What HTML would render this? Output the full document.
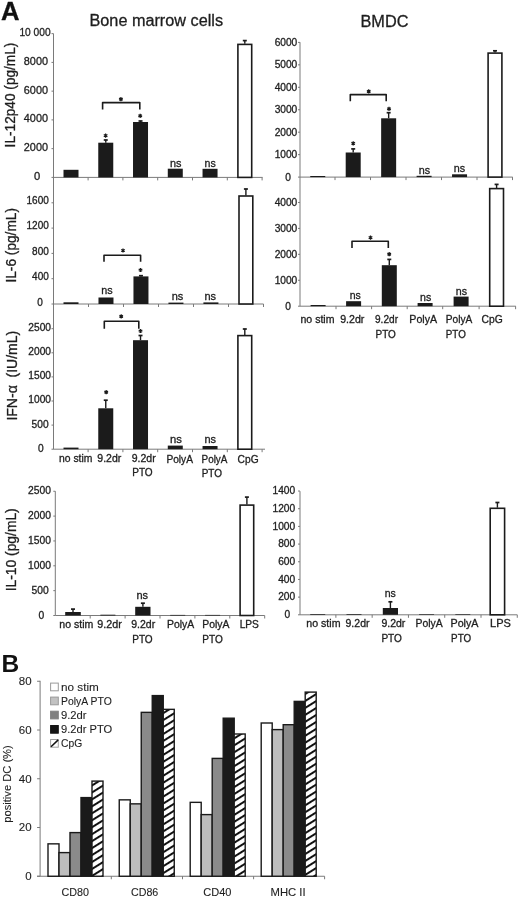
<!DOCTYPE html><html><head><meta charset="utf-8"><style>html,body{margin:0;padding:0;background:#fff;width:520px;height:903px;overflow:hidden}svg{display:block;will-change:transform;filter:blur(0.25px)}text{font-family:"Liberation Sans",sans-serif}</style></head><body>
<svg width="520" height="903" viewBox="0 0 520 903">
<defs><pattern id="hatch" patternUnits="userSpaceOnUse" width="5.9" height="10" patternTransform="rotate(58)"><rect width="5.9" height="10" fill="#fff"/><line x1="1" y1="0" x2="1" y2="10" stroke="#111" stroke-width="2.0"/></pattern></defs>
<rect width="520" height="903" fill="#fff"/>
<text x="1.0" y="19.7" font-size="25.6" text-anchor="start" font-weight="bold" fill="#111" stroke="#111" stroke-width="0.3">A</text>
<text x="89.5" y="26" font-size="16" text-anchor="start" font-weight="normal" fill="#1e1e1e" textLength="133.5" lengthAdjust="spacingAndGlyphs" stroke="#1e1e1e" stroke-width="0.3">Bone marrow cells</text>
<text x="360.5" y="26.5" font-size="16" text-anchor="start" font-weight="normal" fill="#1e1e1e" textLength="48" lengthAdjust="spacingAndGlyphs" stroke="#1e1e1e" stroke-width="0.3">BMDC</text>
<line x1="53.5" y1="33.6" x2="53.5" y2="449.3" stroke="#7a7a7a" stroke-width="1"/>
<line x1="51.5" y1="177.4" x2="53.5" y2="177.4" stroke="#7a7a7a" stroke-width="1"/>
<text x="37.2" y="179.8" font-size="11.2" text-anchor="middle" font-weight="normal" fill="#1e1e1e" stroke="#1e1e1e" stroke-width="0.3">0</text>
<line x1="51.5" y1="148.65" x2="53.5" y2="148.65" stroke="#7a7a7a" stroke-width="1"/>
<text x="48.0" y="151.05" font-size="11.2" text-anchor="end" font-weight="normal" fill="#1e1e1e" textLength="24.2" lengthAdjust="spacingAndGlyphs" stroke="#1e1e1e" stroke-width="0.3">2000</text>
<line x1="51.5" y1="119.9" x2="53.5" y2="119.9" stroke="#7a7a7a" stroke-width="1"/>
<text x="48.0" y="122.30000000000001" font-size="11.2" text-anchor="end" font-weight="normal" fill="#1e1e1e" textLength="24.2" lengthAdjust="spacingAndGlyphs" stroke="#1e1e1e" stroke-width="0.3">4000</text>
<line x1="51.5" y1="91.15" x2="53.5" y2="91.15" stroke="#7a7a7a" stroke-width="1"/>
<text x="48.0" y="93.55000000000001" font-size="11.2" text-anchor="end" font-weight="normal" fill="#1e1e1e" textLength="24.2" lengthAdjust="spacingAndGlyphs" stroke="#1e1e1e" stroke-width="0.3">6000</text>
<line x1="51.5" y1="62.400000000000006" x2="53.5" y2="62.400000000000006" stroke="#7a7a7a" stroke-width="1"/>
<text x="48.0" y="64.80000000000001" font-size="11.2" text-anchor="end" font-weight="normal" fill="#1e1e1e" textLength="24.2" lengthAdjust="spacingAndGlyphs" stroke="#1e1e1e" stroke-width="0.3">8000</text>
<line x1="51.5" y1="33.650000000000006" x2="53.5" y2="33.650000000000006" stroke="#7a7a7a" stroke-width="1"/>
<text x="50.6" y="36.050000000000004" font-size="11.2" text-anchor="end" font-weight="normal" fill="#1e1e1e" textLength="31.2" lengthAdjust="spacingAndGlyphs" stroke="#1e1e1e" stroke-width="0.3">10 000</text>
<line x1="53.5" y1="177.4" x2="262.6" y2="177.4" stroke="#7a7a7a" stroke-width="1"/>
<line x1="88.1" y1="177.4" x2="88.1" y2="180.4" stroke="#7a7a7a" stroke-width="1"/>
<line x1="122.89999999999999" y1="177.4" x2="122.89999999999999" y2="180.4" stroke="#7a7a7a" stroke-width="1"/>
<line x1="157.7" y1="177.4" x2="157.7" y2="180.4" stroke="#7a7a7a" stroke-width="1"/>
<line x1="192.5" y1="177.4" x2="192.5" y2="180.4" stroke="#7a7a7a" stroke-width="1"/>
<line x1="227.3" y1="177.4" x2="227.3" y2="180.4" stroke="#7a7a7a" stroke-width="1"/>
<line x1="262.09999999999997" y1="177.4" x2="262.09999999999997" y2="180.4" stroke="#7a7a7a" stroke-width="1"/>
<text x="15.2" y="95.0" font-size="14" text-anchor="middle" font-weight="normal" fill="#1e1e1e" textLength="104.8" lengthAdjust="spacingAndGlyphs" transform="rotate(-90 15.2 95.0)" stroke="#1e1e1e" stroke-width="0.3">IL-12p40 (pg/mL)</text>
<rect x="63.5" y="169.8" width="15" height="7.599999999999994" fill="#1b1b1b" stroke="none" stroke-width="1"/>
<rect x="98.25999999999999" y="142.7" width="15" height="34.70000000000002" fill="#1b1b1b" stroke="none" stroke-width="1"/>
<line x1="105.75999999999999" y1="142.7" x2="105.75999999999999" y2="139.8" stroke="#1b1b1b" stroke-width="1.4"/>
<line x1="103.75999999999999" y1="140.0" x2="107.75999999999999" y2="140.0" stroke="#1b1b1b" stroke-width="1.7"/>
<rect x="133.01999999999998" y="122.0" width="15" height="55.400000000000006" fill="#1b1b1b" stroke="none" stroke-width="1"/>
<line x1="140.51999999999998" y1="122.0" x2="140.51999999999998" y2="120.8" stroke="#1b1b1b" stroke-width="1.4"/>
<line x1="138.51999999999998" y1="121.0" x2="142.51999999999998" y2="121.0" stroke="#1b1b1b" stroke-width="1.7"/>
<rect x="167.78" y="168.7" width="15" height="8.700000000000017" fill="#1b1b1b" stroke="none" stroke-width="1"/>
<rect x="202.54" y="168.8" width="15" height="8.599999999999994" fill="#1b1b1b" stroke="none" stroke-width="1"/>
<rect x="237.89999999999998" y="44.4" width="13.8" height="133.00000000000003" fill="#fff" stroke="#1b1b1b" stroke-width="1.6"/>
<line x1="244.79999999999998" y1="43.8" x2="244.79999999999998" y2="40.4" stroke="#1b1b1b" stroke-width="1.4"/>
<line x1="242.79999999999998" y1="40.6" x2="246.79999999999998" y2="40.6" stroke="#1b1b1b" stroke-width="1.7"/>
<path d="M105.6 133.5V137.7M103.78 134.55L107.42 136.65M103.78 136.65L107.42 134.55" stroke="#1b1b1b" stroke-width="1.25" fill="none"/>
<circle cx="105.6" cy="135.6" r="0.9" fill="#1b1b1b"/>
<path d="M140.2 113.7V117.89999999999999M138.38 114.75L142.02 116.85M138.38 116.85L142.02 114.75" stroke="#1b1b1b" stroke-width="1.25" fill="none"/>
<circle cx="140.2" cy="115.8" r="0.9" fill="#1b1b1b"/>
<path d="M102.6 109.6 V102.6 H139.8 V109.6" fill="none" stroke="#1b1b1b" stroke-width="1.6" stroke-linejoin="round"/>
<path d="M120.9 97.10000000000001V101.3M119.08 98.15L122.72 100.25M119.08 100.25L122.72 98.15" stroke="#1b1b1b" stroke-width="1.25" fill="none"/>
<circle cx="120.9" cy="99.2" r="0.9" fill="#1b1b1b"/>
<text x="170.0" y="166.8" font-size="10.5" text-anchor="start" font-weight="normal" fill="#1e1e1e" textLength="11.5" lengthAdjust="spacingAndGlyphs" stroke="#1e1e1e" stroke-width="0.3">ns</text>
<text x="204.6" y="166.8" font-size="10.5" text-anchor="start" font-weight="normal" fill="#1e1e1e" textLength="11.2" lengthAdjust="spacingAndGlyphs" stroke="#1e1e1e" stroke-width="0.3">ns</text>
<line x1="51.5" y1="304.0" x2="53.5" y2="304.0" stroke="#7a7a7a" stroke-width="1"/>
<text x="40" y="305.5" font-size="10" text-anchor="middle" font-weight="normal" fill="#1e1e1e" stroke="#1e1e1e" stroke-width="0.3">0</text>
<line x1="51.5" y1="278.7" x2="53.5" y2="278.7" stroke="#7a7a7a" stroke-width="1"/>
<text x="48.8" y="280.0" font-size="10" text-anchor="end" font-weight="normal" fill="#1e1e1e" stroke="#1e1e1e" stroke-width="0.3">400</text>
<line x1="51.5" y1="253.4" x2="53.5" y2="253.4" stroke="#7a7a7a" stroke-width="1"/>
<text x="48.8" y="254.70000000000002" font-size="10" text-anchor="end" font-weight="normal" fill="#1e1e1e" stroke="#1e1e1e" stroke-width="0.3">800</text>
<line x1="51.5" y1="228.1" x2="53.5" y2="228.1" stroke="#7a7a7a" stroke-width="1"/>
<text x="48.8" y="229.4" font-size="10" text-anchor="end" font-weight="normal" fill="#1e1e1e" stroke="#1e1e1e" stroke-width="0.3">1200</text>
<line x1="51.5" y1="202.8" x2="53.5" y2="202.8" stroke="#7a7a7a" stroke-width="1"/>
<text x="48.8" y="204.10000000000002" font-size="10" text-anchor="end" font-weight="normal" fill="#1e1e1e" stroke="#1e1e1e" stroke-width="0.3">1600</text>
<line x1="53.5" y1="304.0" x2="263.5" y2="304.0" stroke="#7a7a7a" stroke-width="1"/>
<line x1="88.5" y1="304.0" x2="88.5" y2="307.0" stroke="#7a7a7a" stroke-width="1"/>
<line x1="123.5" y1="304.0" x2="123.5" y2="307.0" stroke="#7a7a7a" stroke-width="1"/>
<line x1="158.5" y1="304.0" x2="158.5" y2="307.0" stroke="#7a7a7a" stroke-width="1"/>
<line x1="193.5" y1="304.0" x2="193.5" y2="307.0" stroke="#7a7a7a" stroke-width="1"/>
<line x1="228.5" y1="304.0" x2="228.5" y2="307.0" stroke="#7a7a7a" stroke-width="1"/>
<line x1="263.5" y1="304.0" x2="263.5" y2="307.0" stroke="#7a7a7a" stroke-width="1"/>
<text x="16.0" y="245.3" font-size="14" text-anchor="middle" font-weight="normal" fill="#1e1e1e" textLength="74.5" lengthAdjust="spacingAndGlyphs" transform="rotate(-90 16.0 245.3)" stroke="#1e1e1e" stroke-width="0.3">IL-6 (pg/mL)</text>
<rect x="63.5" y="302.3" width="15" height="1.6999999999999886" fill="#1b1b1b" stroke="none" stroke-width="1"/>
<rect x="98.47999999999999" y="297.5" width="15" height="6.5" fill="#1b1b1b" stroke="none" stroke-width="1"/>
<rect x="133.45999999999998" y="276.4" width="15" height="27.600000000000023" fill="#1b1b1b" stroke="none" stroke-width="1"/>
<line x1="140.95999999999998" y1="276.4" x2="140.95999999999998" y2="275.5" stroke="#1b1b1b" stroke-width="1.4"/>
<line x1="138.95999999999998" y1="275.7" x2="142.95999999999998" y2="275.7" stroke="#1b1b1b" stroke-width="1.7"/>
<rect x="168.44" y="302.6" width="15" height="1.3999999999999773" fill="#1b1b1b" stroke="none" stroke-width="1"/>
<rect x="203.42" y="302.4" width="15" height="1.6000000000000227" fill="#1b1b1b" stroke="none" stroke-width="1"/>
<rect x="238.99999999999997" y="196.0" width="13.8" height="108.0" fill="#fff" stroke="#1b1b1b" stroke-width="1.6"/>
<line x1="245.89999999999998" y1="195.4" x2="245.89999999999998" y2="188.8" stroke="#1b1b1b" stroke-width="1.4"/>
<line x1="243.89999999999998" y1="189.0" x2="247.89999999999998" y2="189.0" stroke="#1b1b1b" stroke-width="1.7"/>
<path d="M140.5 267.9V272.1M138.68 268.95L142.32 271.05M138.68 271.05L142.32 268.95" stroke="#1b1b1b" stroke-width="1.25" fill="none"/>
<circle cx="140.5" cy="270" r="0.9" fill="#1b1b1b"/>
<path d="M104 261.7 V255.3 H140.6 V261.7" fill="none" stroke="#1b1b1b" stroke-width="1.6" stroke-linejoin="round"/>
<path d="M123 248.4V252.6M121.18 249.45L124.82 251.55M121.18 251.55L124.82 249.45" stroke="#1b1b1b" stroke-width="1.25" fill="none"/>
<circle cx="123" cy="250.5" r="0.9" fill="#1b1b1b"/>
<text x="101.2" y="294.2" font-size="10.5" text-anchor="start" font-weight="normal" fill="#1e1e1e" textLength="11.4" lengthAdjust="spacingAndGlyphs" stroke="#1e1e1e" stroke-width="0.3">ns</text>
<text x="171.7" y="300.2" font-size="10.5" text-anchor="start" font-weight="normal" fill="#1e1e1e" textLength="11.6" lengthAdjust="spacingAndGlyphs" stroke="#1e1e1e" stroke-width="0.3">ns</text>
<text x="204.5" y="300.0" font-size="10.5" text-anchor="start" font-weight="normal" fill="#1e1e1e" textLength="11.6" lengthAdjust="spacingAndGlyphs" stroke="#1e1e1e" stroke-width="0.3">ns</text>
<line x1="51.5" y1="449.2" x2="53.5" y2="449.2" stroke="#7a7a7a" stroke-width="1"/>
<text x="40.8" y="451.59999999999997" font-size="10.2" text-anchor="middle" font-weight="normal" fill="#1e1e1e" stroke="#1e1e1e" stroke-width="0.3">0</text>
<line x1="51.5" y1="425.09999999999997" x2="53.5" y2="425.09999999999997" stroke="#7a7a7a" stroke-width="1"/>
<text x="48.6" y="427.49999999999994" font-size="10.2" text-anchor="end" font-weight="normal" fill="#1e1e1e" stroke="#1e1e1e" stroke-width="0.3">500</text>
<line x1="51.5" y1="401.0" x2="53.5" y2="401.0" stroke="#7a7a7a" stroke-width="1"/>
<text x="51" y="403.4" font-size="10.2" text-anchor="end" font-weight="normal" fill="#1e1e1e" stroke="#1e1e1e" stroke-width="0.3">1000</text>
<line x1="51.5" y1="376.9" x2="53.5" y2="376.9" stroke="#7a7a7a" stroke-width="1"/>
<text x="51" y="379.29999999999995" font-size="10.2" text-anchor="end" font-weight="normal" fill="#1e1e1e" stroke="#1e1e1e" stroke-width="0.3">1500</text>
<line x1="51.5" y1="352.79999999999995" x2="53.5" y2="352.79999999999995" stroke="#7a7a7a" stroke-width="1"/>
<text x="51" y="355.19999999999993" font-size="10.2" text-anchor="end" font-weight="normal" fill="#1e1e1e" stroke="#1e1e1e" stroke-width="0.3">2000</text>
<line x1="51.5" y1="328.7" x2="53.5" y2="328.7" stroke="#7a7a7a" stroke-width="1"/>
<text x="51" y="331.09999999999997" font-size="10.2" text-anchor="end" font-weight="normal" fill="#1e1e1e" stroke="#1e1e1e" stroke-width="0.3">2500</text>
<line x1="53.5" y1="449.2" x2="265" y2="449.2" stroke="#7a7a7a" stroke-width="1"/>
<line x1="88.1" y1="449.2" x2="88.1" y2="452.2" stroke="#7a7a7a" stroke-width="1"/>
<line x1="122.89999999999999" y1="449.2" x2="122.89999999999999" y2="452.2" stroke="#7a7a7a" stroke-width="1"/>
<line x1="157.7" y1="449.2" x2="157.7" y2="452.2" stroke="#7a7a7a" stroke-width="1"/>
<line x1="192.5" y1="449.2" x2="192.5" y2="452.2" stroke="#7a7a7a" stroke-width="1"/>
<line x1="227.3" y1="449.2" x2="227.3" y2="452.2" stroke="#7a7a7a" stroke-width="1"/>
<line x1="262.09999999999997" y1="449.2" x2="262.09999999999997" y2="452.2" stroke="#7a7a7a" stroke-width="1"/>
<text x="17.0" y="375.7" font-size="14" text-anchor="middle" font-weight="normal" fill="#1e1e1e" textLength="89.8" lengthAdjust="spacingAndGlyphs" transform="rotate(-90 17.0 375.7)" stroke="#1e1e1e" stroke-width="0.3">IFN-α  (IU/mL)</text>
<rect x="63.5" y="447.6" width="15" height="1.599999999999966" fill="#1b1b1b" stroke="none" stroke-width="1"/>
<rect x="98.25999999999999" y="408.3" width="15" height="40.89999999999998" fill="#1b1b1b" stroke="none" stroke-width="1"/>
<line x1="105.75999999999999" y1="408.3" x2="105.75999999999999" y2="400.0" stroke="#1b1b1b" stroke-width="1.4"/>
<line x1="103.75999999999999" y1="400.2" x2="107.75999999999999" y2="400.2" stroke="#1b1b1b" stroke-width="1.7"/>
<rect x="133.01999999999998" y="340.2" width="15" height="109.0" fill="#1b1b1b" stroke="none" stroke-width="1"/>
<line x1="140.51999999999998" y1="340.2" x2="140.51999999999998" y2="335.3" stroke="#1b1b1b" stroke-width="1.4"/>
<line x1="138.51999999999998" y1="335.5" x2="142.51999999999998" y2="335.5" stroke="#1b1b1b" stroke-width="1.7"/>
<rect x="167.78" y="445.6" width="15" height="3.599999999999966" fill="#1b1b1b" stroke="none" stroke-width="1"/>
<rect x="202.54" y="446.0" width="15" height="3.1999999999999886" fill="#1b1b1b" stroke="none" stroke-width="1"/>
<rect x="237.89999999999998" y="335.6" width="13.8" height="113.6" fill="#fff" stroke="#1b1b1b" stroke-width="1.6"/>
<line x1="244.79999999999998" y1="335.0" x2="244.79999999999998" y2="328.8" stroke="#1b1b1b" stroke-width="1.4"/>
<line x1="242.79999999999998" y1="329.0" x2="246.79999999999998" y2="329.0" stroke="#1b1b1b" stroke-width="1.7"/>
<path d="M106.2 390.09999999999997V394.3M104.38 391.15L108.02 393.25M104.38 393.25L108.02 391.15" stroke="#1b1b1b" stroke-width="1.25" fill="none"/>
<circle cx="106.2" cy="392.2" r="0.9" fill="#1b1b1b"/>
<path d="M140.5 328.9V333.1M138.68 329.95L142.32 332.05M138.68 332.05L142.32 329.95" stroke="#1b1b1b" stroke-width="1.25" fill="none"/>
<circle cx="140.5" cy="331" r="0.9" fill="#1b1b1b"/>
<path d="M104.3 328.8 V321.2 H138.8 V328.8" fill="none" stroke="#1b1b1b" stroke-width="1.6" stroke-linejoin="round"/>
<path d="M121.2 314.29999999999995V318.5M119.38 315.35L123.02 317.45M119.38 317.45L123.02 315.35" stroke="#1b1b1b" stroke-width="1.25" fill="none"/>
<circle cx="121.2" cy="316.4" r="0.9" fill="#1b1b1b"/>
<text x="170.0" y="443.2" font-size="10.5" text-anchor="start" font-weight="normal" fill="#1e1e1e" textLength="11.9" lengthAdjust="spacingAndGlyphs" stroke="#1e1e1e" stroke-width="0.3">ns</text>
<text x="204.5" y="443.2" font-size="10.5" text-anchor="start" font-weight="normal" fill="#1e1e1e" textLength="11.6" lengthAdjust="spacingAndGlyphs" stroke="#1e1e1e" stroke-width="0.3">ns</text>
<text x="59" y="462.3" font-size="10.3" text-anchor="start" font-weight="normal" fill="#1e1e1e" textLength="33.4" lengthAdjust="spacingAndGlyphs" stroke="#1e1e1e" stroke-width="0.3">no stim</text>
<text x="97.3" y="462.3" font-size="10.3" text-anchor="start" font-weight="normal" fill="#1e1e1e" textLength="24" lengthAdjust="spacingAndGlyphs" stroke="#1e1e1e" stroke-width="0.3">9.2dr</text>
<text x="131.7" y="462.3" font-size="10.3" text-anchor="start" font-weight="normal" fill="#1e1e1e" textLength="24" lengthAdjust="spacingAndGlyphs" stroke="#1e1e1e" stroke-width="0.3">9.2dr</text>
<text x="132.2" y="476.3" font-size="10.3" text-anchor="start" font-weight="normal" fill="#1e1e1e" textLength="20.5" lengthAdjust="spacingAndGlyphs" stroke="#1e1e1e" stroke-width="0.3">PTO</text>
<text x="166.4" y="462.5" font-size="10.3" text-anchor="start" font-weight="normal" fill="#1e1e1e" textLength="26.6" lengthAdjust="spacingAndGlyphs" stroke="#1e1e1e" stroke-width="0.3">PolyA</text>
<text x="201.6" y="462.5" font-size="10.3" text-anchor="start" font-weight="normal" fill="#1e1e1e" textLength="25.8" lengthAdjust="spacingAndGlyphs" stroke="#1e1e1e" stroke-width="0.3">PolyA</text>
<text x="201.7" y="476.5" font-size="10.3" text-anchor="start" font-weight="normal" fill="#1e1e1e" textLength="20.3" lengthAdjust="spacingAndGlyphs" stroke="#1e1e1e" stroke-width="0.3">PTO</text>
<text x="237.6" y="462.5" font-size="10.3" text-anchor="start" font-weight="normal" fill="#1e1e1e" textLength="21" lengthAdjust="spacingAndGlyphs" stroke="#1e1e1e" stroke-width="0.3">CpG</text>
<line x1="55.3" y1="491.2" x2="55.3" y2="615.5" stroke="#7a7a7a" stroke-width="1"/>
<line x1="53.3" y1="615.5" x2="55.3" y2="615.5" stroke="#7a7a7a" stroke-width="1"/>
<text x="41.3" y="618.7" font-size="10.3" text-anchor="middle" font-weight="normal" fill="#1e1e1e" stroke="#1e1e1e" stroke-width="0.3">0</text>
<line x1="53.3" y1="590.65" x2="55.3" y2="590.65" stroke="#7a7a7a" stroke-width="1"/>
<text x="48.8" y="593.85" font-size="10.3" text-anchor="end" font-weight="normal" fill="#1e1e1e" stroke="#1e1e1e" stroke-width="0.3">500</text>
<line x1="53.3" y1="565.8" x2="55.3" y2="565.8" stroke="#7a7a7a" stroke-width="1"/>
<text x="51" y="569.0" font-size="10.3" text-anchor="end" font-weight="normal" fill="#1e1e1e" stroke="#1e1e1e" stroke-width="0.3">1000</text>
<line x1="53.3" y1="540.95" x2="55.3" y2="540.95" stroke="#7a7a7a" stroke-width="1"/>
<text x="51" y="544.1500000000001" font-size="10.3" text-anchor="end" font-weight="normal" fill="#1e1e1e" stroke="#1e1e1e" stroke-width="0.3">1500</text>
<line x1="53.3" y1="516.1" x2="55.3" y2="516.1" stroke="#7a7a7a" stroke-width="1"/>
<text x="51" y="519.3000000000001" font-size="10.3" text-anchor="end" font-weight="normal" fill="#1e1e1e" stroke="#1e1e1e" stroke-width="0.3">2000</text>
<line x1="53.3" y1="491.25" x2="55.3" y2="491.25" stroke="#7a7a7a" stroke-width="1"/>
<text x="51" y="494.45" font-size="10.3" text-anchor="end" font-weight="normal" fill="#1e1e1e" stroke="#1e1e1e" stroke-width="0.3">2500</text>
<line x1="55.3" y1="615.5" x2="264.7" y2="615.5" stroke="#7a7a7a" stroke-width="1"/>
<line x1="90.19999999999999" y1="615.5" x2="90.19999999999999" y2="618.5" stroke="#7a7a7a" stroke-width="1"/>
<line x1="125.1" y1="615.5" x2="125.1" y2="618.5" stroke="#7a7a7a" stroke-width="1"/>
<line x1="160.0" y1="615.5" x2="160.0" y2="618.5" stroke="#7a7a7a" stroke-width="1"/>
<line x1="194.89999999999998" y1="615.5" x2="194.89999999999998" y2="618.5" stroke="#7a7a7a" stroke-width="1"/>
<line x1="229.8" y1="615.5" x2="229.8" y2="618.5" stroke="#7a7a7a" stroke-width="1"/>
<line x1="264.7" y1="615.5" x2="264.7" y2="618.5" stroke="#7a7a7a" stroke-width="1"/>
<text x="16.0" y="549.8" font-size="14" text-anchor="middle" font-weight="normal" fill="#1e1e1e" textLength="83" lengthAdjust="spacingAndGlyphs" transform="rotate(-90 16.0 549.8)" stroke="#1e1e1e" stroke-width="0.3">IL-10 (pg/mL)</text>
<rect x="65.2" y="612.0" width="15.6" height="3.5" fill="#1b1b1b" stroke="none" stroke-width="1"/>
<line x1="73.0" y1="612" x2="73.0" y2="608.9" stroke="#1b1b1b" stroke-width="1.4"/>
<line x1="71.0" y1="609.1" x2="75.0" y2="609.1" stroke="#1b1b1b" stroke-width="1.7"/>
<rect x="100.4" y="614.7" width="15" height="0.8" fill="#1b1b1b" stroke="none" stroke-width="1"/>
<rect x="135.20000000000002" y="606.8" width="15.3" height="8.700000000000045" fill="#1b1b1b" stroke="none" stroke-width="1"/>
<line x1="142.9" y1="606.8" x2="142.9" y2="603.0" stroke="#1b1b1b" stroke-width="1.4"/>
<line x1="140.9" y1="603.2" x2="144.9" y2="603.2" stroke="#1b1b1b" stroke-width="1.7"/>
<rect x="170.2" y="614.9" width="15" height="0.6" fill="#1b1b1b" stroke="none" stroke-width="1"/>
<rect x="205.1" y="614.9" width="15" height="0.6" fill="#1b1b1b" stroke="none" stroke-width="1"/>
<rect x="240.1" y="505.1" width="13.6" height="110.39999999999998" fill="#fff" stroke="#1b1b1b" stroke-width="1.6"/>
<line x1="246.9" y1="504.5" x2="246.9" y2="496.9" stroke="#1b1b1b" stroke-width="1.4"/>
<line x1="244.9" y1="497.09999999999997" x2="248.9" y2="497.09999999999997" stroke="#1b1b1b" stroke-width="1.7"/>
<text x="136.39999999999998" y="599.0" font-size="10.5" text-anchor="start" font-weight="normal" fill="#1e1e1e" textLength="11.6" lengthAdjust="spacingAndGlyphs" stroke="#1e1e1e" stroke-width="0.3">ns</text>
<text x="59.3" y="627.5" font-size="10.3" text-anchor="start" font-weight="normal" fill="#1e1e1e" textLength="34" lengthAdjust="spacingAndGlyphs" stroke="#1e1e1e" stroke-width="0.3">no stim</text>
<text x="97.3" y="627.5" font-size="10.3" text-anchor="start" font-weight="normal" fill="#1e1e1e" textLength="24.5" lengthAdjust="spacingAndGlyphs" stroke="#1e1e1e" stroke-width="0.3">9.2dr</text>
<text x="131.2" y="627.5" font-size="10.3" text-anchor="start" font-weight="normal" fill="#1e1e1e" textLength="24" lengthAdjust="spacingAndGlyphs" stroke="#1e1e1e" stroke-width="0.3">9.2dr</text>
<text x="132.2" y="643.3" font-size="10.3" text-anchor="start" font-weight="normal" fill="#1e1e1e" textLength="20.5" lengthAdjust="spacingAndGlyphs" stroke="#1e1e1e" stroke-width="0.3">PTO</text>
<text x="167.0" y="627.5" font-size="10.3" text-anchor="start" font-weight="normal" fill="#1e1e1e" textLength="27.2" lengthAdjust="spacingAndGlyphs" stroke="#1e1e1e" stroke-width="0.3">PolyA</text>
<text x="202.3" y="627.5" font-size="10.3" text-anchor="start" font-weight="normal" fill="#1e1e1e" textLength="27.2" lengthAdjust="spacingAndGlyphs" stroke="#1e1e1e" stroke-width="0.3">PolyA</text>
<text x="202.3" y="643.3" font-size="10.3" text-anchor="start" font-weight="normal" fill="#1e1e1e" textLength="20.5" lengthAdjust="spacingAndGlyphs" stroke="#1e1e1e" stroke-width="0.3">PTO</text>
<text x="239.7" y="627.5" font-size="10.3" text-anchor="start" font-weight="normal" fill="#1e1e1e" textLength="19.2" lengthAdjust="spacingAndGlyphs" stroke="#1e1e1e" stroke-width="0.3">LPS</text>
<line x1="300.0" y1="42.2" x2="300.0" y2="306.2" stroke="#7a7a7a" stroke-width="1"/>
<line x1="298.0" y1="177.1" x2="300.0" y2="177.1" stroke="#7a7a7a" stroke-width="1"/>
<text x="288" y="180.7" font-size="10.2" text-anchor="middle" font-weight="normal" fill="#1e1e1e" stroke="#1e1e1e" stroke-width="0.3">0</text>
<line x1="298.0" y1="154.65" x2="300.0" y2="154.65" stroke="#7a7a7a" stroke-width="1"/>
<text x="297.3" y="158.25" font-size="10.2" text-anchor="end" font-weight="normal" fill="#1e1e1e" stroke="#1e1e1e" stroke-width="0.3">1000</text>
<line x1="298.0" y1="132.2" x2="300.0" y2="132.2" stroke="#7a7a7a" stroke-width="1"/>
<text x="297.3" y="135.79999999999998" font-size="10.2" text-anchor="end" font-weight="normal" fill="#1e1e1e" stroke="#1e1e1e" stroke-width="0.3">2000</text>
<line x1="298.0" y1="109.75" x2="300.0" y2="109.75" stroke="#7a7a7a" stroke-width="1"/>
<text x="297.3" y="113.35" font-size="10.2" text-anchor="end" font-weight="normal" fill="#1e1e1e" stroke="#1e1e1e" stroke-width="0.3">3000</text>
<line x1="298.0" y1="87.3" x2="300.0" y2="87.3" stroke="#7a7a7a" stroke-width="1"/>
<text x="297.3" y="90.89999999999999" font-size="10.2" text-anchor="end" font-weight="normal" fill="#1e1e1e" stroke="#1e1e1e" stroke-width="0.3">4000</text>
<line x1="298.0" y1="64.85000000000001" x2="300.0" y2="64.85000000000001" stroke="#7a7a7a" stroke-width="1"/>
<text x="297.3" y="68.45" font-size="10.2" text-anchor="end" font-weight="normal" fill="#1e1e1e" stroke="#1e1e1e" stroke-width="0.3">5000</text>
<line x1="298.0" y1="42.400000000000006" x2="300.0" y2="42.400000000000006" stroke="#7a7a7a" stroke-width="1"/>
<text x="297.3" y="46.00000000000001" font-size="10.2" text-anchor="end" font-weight="normal" fill="#1e1e1e" stroke="#1e1e1e" stroke-width="0.3">6000</text>
<line x1="300.0" y1="177.1" x2="512.7" y2="177.1" stroke="#7a7a7a" stroke-width="1"/>
<line x1="335.0" y1="177.1" x2="335.0" y2="180.1" stroke="#7a7a7a" stroke-width="1"/>
<line x1="370.5" y1="177.1" x2="370.5" y2="180.1" stroke="#7a7a7a" stroke-width="1"/>
<line x1="406.0" y1="177.1" x2="406.0" y2="180.1" stroke="#7a7a7a" stroke-width="1"/>
<line x1="441.5" y1="177.1" x2="441.5" y2="180.1" stroke="#7a7a7a" stroke-width="1"/>
<line x1="477.0" y1="177.1" x2="477.0" y2="180.1" stroke="#7a7a7a" stroke-width="1"/>
<line x1="512.5" y1="177.1" x2="512.5" y2="180.1" stroke="#7a7a7a" stroke-width="1"/>
<rect x="310.25" y="176.0" width="15" height="1.0999999999999943" fill="#1b1b1b" stroke="none" stroke-width="1"/>
<rect x="345.7" y="152.5" width="15" height="24.599999999999994" fill="#1b1b1b" stroke="none" stroke-width="1"/>
<line x1="353.2" y1="152.5" x2="353.2" y2="148.7" stroke="#1b1b1b" stroke-width="1.4"/>
<line x1="351.2" y1="148.89999999999998" x2="355.2" y2="148.89999999999998" stroke="#1b1b1b" stroke-width="1.7"/>
<rect x="381.15" y="118.3" width="15" height="58.8" fill="#1b1b1b" stroke="none" stroke-width="1"/>
<line x1="388.65" y1="118.3" x2="388.65" y2="112.5" stroke="#1b1b1b" stroke-width="1.4"/>
<line x1="386.65" y1="112.7" x2="390.65" y2="112.7" stroke="#1b1b1b" stroke-width="1.7"/>
<rect x="416.6" y="175.8" width="15" height="1.299999999999983" fill="#1b1b1b" stroke="none" stroke-width="1"/>
<rect x="452.05" y="174.3" width="15" height="2.799999999999983" fill="#1b1b1b" stroke="none" stroke-width="1"/>
<rect x="488.1" y="53.1" width="13.8" height="124.0" fill="#fff" stroke="#1b1b1b" stroke-width="1.6"/>
<line x1="495.0" y1="52.5" x2="495.0" y2="50.6" stroke="#1b1b1b" stroke-width="1.4"/>
<line x1="493.0" y1="50.800000000000004" x2="497.0" y2="50.800000000000004" stroke="#1b1b1b" stroke-width="1.7"/>
<path d="M353.2 141.20000000000002V145.4M351.38 142.25L355.02 144.35M351.38 144.35L355.02 142.25" stroke="#1b1b1b" stroke-width="1.25" fill="none"/>
<circle cx="353.2" cy="143.3" r="0.9" fill="#1b1b1b"/>
<path d="M389 106.7V110.89999999999999M387.18 107.75L390.82 109.85M387.18 109.85L390.82 107.75" stroke="#1b1b1b" stroke-width="1.25" fill="none"/>
<circle cx="389" cy="108.8" r="0.9" fill="#1b1b1b"/>
<path d="M350.3 101.3 V94.6 H386.2 V101.3" fill="none" stroke="#1b1b1b" stroke-width="1.6" stroke-linejoin="round"/>
<path d="M368.7 89.30000000000001V93.5M366.88 90.35L370.52 92.45M366.88 92.45L370.52 90.35" stroke="#1b1b1b" stroke-width="1.25" fill="none"/>
<circle cx="368.7" cy="91.4" r="0.9" fill="#1b1b1b"/>
<text x="418.7" y="173.6" font-size="10.5" text-anchor="start" font-weight="normal" fill="#1e1e1e" textLength="11.4" lengthAdjust="spacingAndGlyphs" stroke="#1e1e1e" stroke-width="0.3">ns</text>
<text x="453.7" y="171.7" font-size="10.5" text-anchor="start" font-weight="normal" fill="#1e1e1e" textLength="11.4" lengthAdjust="spacingAndGlyphs" stroke="#1e1e1e" stroke-width="0.3">ns</text>
<line x1="298.0" y1="306.2" x2="300.0" y2="306.2" stroke="#7a7a7a" stroke-width="1"/>
<text x="288" y="309.8" font-size="10.2" text-anchor="middle" font-weight="normal" fill="#1e1e1e" stroke="#1e1e1e" stroke-width="0.3">0</text>
<line x1="298.0" y1="280.27" x2="300.0" y2="280.27" stroke="#7a7a7a" stroke-width="1"/>
<text x="297.3" y="283.87" font-size="10.2" text-anchor="end" font-weight="normal" fill="#1e1e1e" stroke="#1e1e1e" stroke-width="0.3">1000</text>
<line x1="298.0" y1="254.33999999999997" x2="300.0" y2="254.33999999999997" stroke="#7a7a7a" stroke-width="1"/>
<text x="297.3" y="257.94" font-size="10.2" text-anchor="end" font-weight="normal" fill="#1e1e1e" stroke="#1e1e1e" stroke-width="0.3">2000</text>
<line x1="298.0" y1="228.41" x2="300.0" y2="228.41" stroke="#7a7a7a" stroke-width="1"/>
<text x="297.3" y="232.01" font-size="10.2" text-anchor="end" font-weight="normal" fill="#1e1e1e" stroke="#1e1e1e" stroke-width="0.3">3000</text>
<line x1="298.0" y1="202.48" x2="300.0" y2="202.48" stroke="#7a7a7a" stroke-width="1"/>
<text x="297.3" y="206.07999999999998" font-size="10.2" text-anchor="end" font-weight="normal" fill="#1e1e1e" stroke="#1e1e1e" stroke-width="0.3">4000</text>
<line x1="300.0" y1="306.2" x2="515.8" y2="306.2" stroke="#7a7a7a" stroke-width="1"/>
<line x1="336" y1="306.2" x2="336" y2="309.2" stroke="#7a7a7a" stroke-width="1"/>
<line x1="371.6" y1="306.2" x2="371.6" y2="309.2" stroke="#7a7a7a" stroke-width="1"/>
<line x1="407.2" y1="306.2" x2="407.2" y2="309.2" stroke="#7a7a7a" stroke-width="1"/>
<line x1="442.7" y1="306.2" x2="442.7" y2="309.2" stroke="#7a7a7a" stroke-width="1"/>
<line x1="479.1" y1="306.2" x2="479.1" y2="309.2" stroke="#7a7a7a" stroke-width="1"/>
<line x1="515.6" y1="306.2" x2="515.6" y2="309.2" stroke="#7a7a7a" stroke-width="1"/>
<rect x="310.6" y="305.0" width="15" height="1.1999999999999886" fill="#1b1b1b" stroke="none" stroke-width="1"/>
<rect x="346.1" y="301.2" width="15" height="5.0" fill="#1b1b1b" stroke="none" stroke-width="1"/>
<rect x="381.8" y="265.2" width="15" height="41.0" fill="#1b1b1b" stroke="none" stroke-width="1"/>
<line x1="389.3" y1="265.2" x2="389.3" y2="259.2" stroke="#1b1b1b" stroke-width="1.4"/>
<line x1="387.3" y1="259.4" x2="391.3" y2="259.4" stroke="#1b1b1b" stroke-width="1.7"/>
<rect x="417.6" y="303.0" width="15" height="3.1999999999999886" fill="#1b1b1b" stroke="none" stroke-width="1"/>
<rect x="453.6" y="296.6" width="15" height="9.599999999999966" fill="#1b1b1b" stroke="none" stroke-width="1"/>
<rect x="489.70000000000005" y="188.6" width="13.8" height="117.6" fill="#fff" stroke="#1b1b1b" stroke-width="1.6"/>
<line x1="496.6" y1="188.0" x2="496.6" y2="184.2" stroke="#1b1b1b" stroke-width="1.4"/>
<line x1="494.6" y1="184.39999999999998" x2="498.6" y2="184.39999999999998" stroke="#1b1b1b" stroke-width="1.7"/>
<path d="M389.2 252.1V256.3M387.38 253.15L391.02 255.25M387.38 255.25L391.02 253.15" stroke="#1b1b1b" stroke-width="1.25" fill="none"/>
<circle cx="389.2" cy="254.2" r="0.9" fill="#1b1b1b"/>
<path d="M352 248 V241.3 H388.3 V248" fill="none" stroke="#1b1b1b" stroke-width="1.6" stroke-linejoin="round"/>
<path d="M370.5 235.5V239.7M368.68 236.55L372.32 238.65M368.68 238.65L372.32 236.55" stroke="#1b1b1b" stroke-width="1.25" fill="none"/>
<circle cx="370.5" cy="237.6" r="0.9" fill="#1b1b1b"/>
<text x="349.7" y="298.9" font-size="10.5" text-anchor="start" font-weight="normal" fill="#1e1e1e" textLength="11.1" lengthAdjust="spacingAndGlyphs" stroke="#1e1e1e" stroke-width="0.3">ns</text>
<text x="420.09999999999997" y="301.3" font-size="10.5" text-anchor="start" font-weight="normal" fill="#1e1e1e" textLength="11.2" lengthAdjust="spacingAndGlyphs" stroke="#1e1e1e" stroke-width="0.3">ns</text>
<text x="455.7" y="295.3" font-size="10.5" text-anchor="start" font-weight="normal" fill="#1e1e1e" textLength="11.3" lengthAdjust="spacingAndGlyphs" stroke="#1e1e1e" stroke-width="0.3">ns</text>
<text x="300.5" y="323.3" font-size="10.3" text-anchor="start" font-weight="normal" fill="#1e1e1e" textLength="34" lengthAdjust="spacingAndGlyphs" stroke="#1e1e1e" stroke-width="0.3">no stim</text>
<text x="340.2" y="323.3" font-size="10.3" text-anchor="start" font-weight="normal" fill="#1e1e1e" textLength="24.2" lengthAdjust="spacingAndGlyphs" stroke="#1e1e1e" stroke-width="0.3">9.2dr</text>
<text x="375.0" y="323.3" font-size="10.3" text-anchor="start" font-weight="normal" fill="#1e1e1e" textLength="23" lengthAdjust="spacingAndGlyphs" stroke="#1e1e1e" stroke-width="0.3">9.2dr</text>
<text x="375.5" y="337.9" font-size="10.3" text-anchor="start" font-weight="normal" fill="#1e1e1e" textLength="20.3" lengthAdjust="spacingAndGlyphs" stroke="#1e1e1e" stroke-width="0.3">PTO</text>
<text x="409.3" y="323.3" font-size="10.3" text-anchor="start" font-weight="normal" fill="#1e1e1e" textLength="27.8" lengthAdjust="spacingAndGlyphs" stroke="#1e1e1e" stroke-width="0.3">PolyA</text>
<text x="445.8" y="323.3" font-size="10.3" text-anchor="start" font-weight="normal" fill="#1e1e1e" textLength="26.5" lengthAdjust="spacingAndGlyphs" stroke="#1e1e1e" stroke-width="0.3">PolyA</text>
<text x="445.8" y="337.9" font-size="10.3" text-anchor="start" font-weight="normal" fill="#1e1e1e" textLength="20" lengthAdjust="spacingAndGlyphs" stroke="#1e1e1e" stroke-width="0.3">PTO</text>
<text x="481.5" y="323.3" font-size="10.3" text-anchor="start" font-weight="normal" fill="#1e1e1e" textLength="21.2" lengthAdjust="spacingAndGlyphs" stroke="#1e1e1e" stroke-width="0.3">CpG</text>
<line x1="300.0" y1="491.2" x2="300.0" y2="614.8" stroke="#7a7a7a" stroke-width="1"/>
<line x1="298.0" y1="614.8" x2="300.0" y2="614.8" stroke="#7a7a7a" stroke-width="1"/>
<text x="287.4" y="618.4" font-size="10.2" text-anchor="middle" font-weight="normal" fill="#1e1e1e" stroke="#1e1e1e" stroke-width="0.3">0</text>
<line x1="298.0" y1="597.12" x2="300.0" y2="597.12" stroke="#7a7a7a" stroke-width="1"/>
<text x="295.2" y="600.42" font-size="10.2" text-anchor="end" font-weight="normal" fill="#1e1e1e" stroke="#1e1e1e" stroke-width="0.3">200</text>
<line x1="298.0" y1="579.4399999999999" x2="300.0" y2="579.4399999999999" stroke="#7a7a7a" stroke-width="1"/>
<text x="295.2" y="582.7399999999999" font-size="10.2" text-anchor="end" font-weight="normal" fill="#1e1e1e" stroke="#1e1e1e" stroke-width="0.3">400</text>
<line x1="298.0" y1="561.76" x2="300.0" y2="561.76" stroke="#7a7a7a" stroke-width="1"/>
<text x="295.2" y="565.06" font-size="10.2" text-anchor="end" font-weight="normal" fill="#1e1e1e" stroke="#1e1e1e" stroke-width="0.3">600</text>
<line x1="298.0" y1="544.0799999999999" x2="300.0" y2="544.0799999999999" stroke="#7a7a7a" stroke-width="1"/>
<text x="295.2" y="547.3799999999999" font-size="10.2" text-anchor="end" font-weight="normal" fill="#1e1e1e" stroke="#1e1e1e" stroke-width="0.3">800</text>
<line x1="298.0" y1="526.4" x2="300.0" y2="526.4" stroke="#7a7a7a" stroke-width="1"/>
<text x="295.2" y="529.6999999999999" font-size="10.2" text-anchor="end" font-weight="normal" fill="#1e1e1e" stroke="#1e1e1e" stroke-width="0.3">1000</text>
<line x1="298.0" y1="508.71999999999997" x2="300.0" y2="508.71999999999997" stroke="#7a7a7a" stroke-width="1"/>
<text x="295.2" y="512.02" font-size="10.2" text-anchor="end" font-weight="normal" fill="#1e1e1e" stroke="#1e1e1e" stroke-width="0.3">1200</text>
<line x1="298.0" y1="491.03999999999996" x2="300.0" y2="491.03999999999996" stroke="#7a7a7a" stroke-width="1"/>
<text x="295.2" y="494.34" font-size="10.2" text-anchor="end" font-weight="normal" fill="#1e1e1e" stroke="#1e1e1e" stroke-width="0.3">1400</text>
<line x1="300.0" y1="614.8" x2="517.3" y2="614.8" stroke="#7a7a7a" stroke-width="1"/>
<line x1="335.88" y1="614.8" x2="335.88" y2="617.8" stroke="#7a7a7a" stroke-width="1"/>
<line x1="372.16" y1="614.8" x2="372.16" y2="617.8" stroke="#7a7a7a" stroke-width="1"/>
<line x1="408.44000000000005" y1="614.8" x2="408.44000000000005" y2="617.8" stroke="#7a7a7a" stroke-width="1"/>
<line x1="444.72" y1="614.8" x2="444.72" y2="617.8" stroke="#7a7a7a" stroke-width="1"/>
<line x1="481.0" y1="614.8" x2="481.0" y2="617.8" stroke="#7a7a7a" stroke-width="1"/>
<line x1="517.28" y1="614.8" x2="517.28" y2="617.8" stroke="#7a7a7a" stroke-width="1"/>
<rect x="310.2" y="614.0999999999999" width="15" height="0.7" fill="#1b1b1b" stroke="none" stroke-width="1"/>
<rect x="346.48" y="614.0999999999999" width="15" height="0.7" fill="#1b1b1b" stroke="none" stroke-width="1"/>
<rect x="382.8" y="608.0" width="15.2" height="6.7999999999999545" fill="#1b1b1b" stroke="none" stroke-width="1"/>
<line x1="390.4" y1="608" x2="390.4" y2="601.6" stroke="#1b1b1b" stroke-width="1.4"/>
<line x1="388.4" y1="601.8000000000001" x2="392.4" y2="601.8000000000001" stroke="#1b1b1b" stroke-width="1.7"/>
<rect x="419.03999999999996" y="614.1999999999999" width="15" height="0.6" fill="#1b1b1b" stroke="none" stroke-width="1"/>
<rect x="455.32" y="614.1999999999999" width="15" height="0.6" fill="#1b1b1b" stroke="none" stroke-width="1"/>
<rect x="490.2" y="508.3" width="14.4" height="106.49999999999994" fill="#fff" stroke="#1b1b1b" stroke-width="1.6"/>
<line x1="497.4" y1="507.7" x2="497.4" y2="502.3" stroke="#1b1b1b" stroke-width="1.4"/>
<line x1="495.4" y1="502.5" x2="499.4" y2="502.5" stroke="#1b1b1b" stroke-width="1.7"/>
<text x="384.7" y="596.8" font-size="10.5" text-anchor="start" font-weight="normal" fill="#1e1e1e" textLength="11.1" lengthAdjust="spacingAndGlyphs" stroke="#1e1e1e" stroke-width="0.3">ns</text>
<text x="306.3" y="626.5" font-size="10.3" text-anchor="start" font-weight="normal" fill="#1e1e1e" textLength="34.2" lengthAdjust="spacingAndGlyphs" stroke="#1e1e1e" stroke-width="0.3">no stim</text>
<text x="345.5" y="626.5" font-size="10.3" text-anchor="start" font-weight="normal" fill="#1e1e1e" textLength="24" lengthAdjust="spacingAndGlyphs" stroke="#1e1e1e" stroke-width="0.3">9.2dr</text>
<text x="381.4" y="626.5" font-size="10.3" text-anchor="start" font-weight="normal" fill="#1e1e1e" textLength="24" lengthAdjust="spacingAndGlyphs" stroke="#1e1e1e" stroke-width="0.3">9.2dr</text>
<text x="381.4" y="642" font-size="10.3" text-anchor="start" font-weight="normal" fill="#1e1e1e" textLength="20.5" lengthAdjust="spacingAndGlyphs" stroke="#1e1e1e" stroke-width="0.3">PTO</text>
<text x="415.5" y="626.5" font-size="10.3" text-anchor="start" font-weight="normal" fill="#1e1e1e" textLength="27.2" lengthAdjust="spacingAndGlyphs" stroke="#1e1e1e" stroke-width="0.3">PolyA</text>
<text x="450.5" y="626.5" font-size="10.3" text-anchor="start" font-weight="normal" fill="#1e1e1e" textLength="28" lengthAdjust="spacingAndGlyphs" stroke="#1e1e1e" stroke-width="0.3">PolyA</text>
<text x="451.1" y="642" font-size="10.3" text-anchor="start" font-weight="normal" fill="#1e1e1e" textLength="20" lengthAdjust="spacingAndGlyphs" stroke="#1e1e1e" stroke-width="0.3">PTO</text>
<text x="490.1" y="626.5" font-size="10.3" text-anchor="start" font-weight="normal" fill="#1e1e1e" textLength="20.8" lengthAdjust="spacingAndGlyphs" stroke="#1e1e1e" stroke-width="0.3">LPS</text>
<text x="1.5" y="672" font-size="24.5" text-anchor="start" font-weight="bold" fill="#111">B</text>
<line x1="40.1" y1="680.8" x2="40.1" y2="876.25" stroke="#7a7a7a" stroke-width="1"/>
<line x1="37.1" y1="876.25" x2="40.1" y2="876.25" stroke="#7a7a7a" stroke-width="1"/>
<text x="31.6" y="880.15" font-size="10.4" text-anchor="end" font-weight="normal" fill="#1e1e1e" textLength="6.4" lengthAdjust="spacingAndGlyphs" stroke="#1e1e1e" stroke-width="0.1">0</text>
<line x1="37.1" y1="827.5" x2="40.1" y2="827.5" stroke="#7a7a7a" stroke-width="1"/>
<text x="31.6" y="831.4" font-size="10.4" text-anchor="end" font-weight="normal" fill="#1e1e1e" textLength="12.8" lengthAdjust="spacingAndGlyphs" stroke="#1e1e1e" stroke-width="0.1">20</text>
<line x1="37.1" y1="778.75" x2="40.1" y2="778.75" stroke="#7a7a7a" stroke-width="1"/>
<text x="31.6" y="782.65" font-size="10.4" text-anchor="end" font-weight="normal" fill="#1e1e1e" textLength="12.8" lengthAdjust="spacingAndGlyphs" stroke="#1e1e1e" stroke-width="0.1">40</text>
<line x1="37.1" y1="730.0" x2="40.1" y2="730.0" stroke="#7a7a7a" stroke-width="1"/>
<text x="31.6" y="733.9" font-size="10.4" text-anchor="end" font-weight="normal" fill="#1e1e1e" textLength="12.8" lengthAdjust="spacingAndGlyphs" stroke="#1e1e1e" stroke-width="0.1">60</text>
<line x1="37.1" y1="681.25" x2="40.1" y2="681.25" stroke="#7a7a7a" stroke-width="1"/>
<text x="31.6" y="685.15" font-size="10.4" text-anchor="end" font-weight="normal" fill="#1e1e1e" textLength="12.8" lengthAdjust="spacingAndGlyphs" stroke="#1e1e1e" stroke-width="0.1">80</text>
<line x1="37" y1="876.25" x2="324.6" y2="876.25" stroke="#7a7a7a" stroke-width="1"/>
<line x1="111.3" y1="876.25" x2="111.3" y2="879.25" stroke="#7a7a7a" stroke-width="1"/>
<line x1="182.5" y1="876.25" x2="182.5" y2="879.25" stroke="#7a7a7a" stroke-width="1"/>
<line x1="253.6" y1="876.25" x2="253.6" y2="879.25" stroke="#7a7a7a" stroke-width="1"/>
<line x1="324.6" y1="876.25" x2="324.6" y2="879.25" stroke="#7a7a7a" stroke-width="1"/>
<text x="11.3" y="784" font-size="10.2" text-anchor="middle" font-weight="normal" fill="#1e1e1e" textLength="77.5" lengthAdjust="spacingAndGlyphs" transform="rotate(-90 11.3 784)" stroke="#1e1e1e" stroke-width="0.1">positive DC (%)</text>
<rect x="48.0" y="843.85" width="11.0" height="32.4" fill="#ffffff" stroke="#1a1a1a" stroke-width="1.4"/>
<rect x="59.0" y="852.6" width="11.0" height="23.65" fill="#bdbdbd" stroke="#1a1a1a" stroke-width="1.4"/>
<rect x="70.0" y="832.6" width="11.0" height="43.65" fill="#8a8a8a" stroke="#1a1a1a" stroke-width="1.4"/>
<rect x="81.0" y="797.6" width="11.0" height="78.65" fill="#1a1a1a" stroke="#1a1a1a" stroke-width="1.4"/>
<rect x="92.0" y="781.1" width="11.0" height="95.15" fill="url(#hatch)" stroke="#1a1a1a" stroke-width="1.4"/>
<rect x="119.25" y="799.85" width="11.0" height="76.4" fill="#ffffff" stroke="#1a1a1a" stroke-width="1.4"/>
<rect x="130.25" y="803.85" width="11.0" height="72.4" fill="#bdbdbd" stroke="#1a1a1a" stroke-width="1.4"/>
<rect x="141.25" y="712.35" width="11.0" height="163.9" fill="#8a8a8a" stroke="#1a1a1a" stroke-width="1.4"/>
<rect x="152.25" y="695.6" width="11.0" height="180.65" fill="#1a1a1a" stroke="#1a1a1a" stroke-width="1.4"/>
<rect x="163.25" y="709.35" width="11.0" height="166.9" fill="url(#hatch)" stroke="#1a1a1a" stroke-width="1.4"/>
<rect x="190.2" y="802.35" width="11.0" height="73.9" fill="#ffffff" stroke="#1a1a1a" stroke-width="1.4"/>
<rect x="201.2" y="814.6" width="11.0" height="61.65" fill="#bdbdbd" stroke="#1a1a1a" stroke-width="1.4"/>
<rect x="212.2" y="758.4" width="11.0" height="117.85000000000005" fill="#8a8a8a" stroke="#1a1a1a" stroke-width="1.4"/>
<rect x="223.2" y="718.2" width="11.0" height="158.04999999999998" fill="#1a1a1a" stroke="#1a1a1a" stroke-width="1.4"/>
<rect x="234.2" y="734.0" width="11.0" height="142.25000000000003" fill="url(#hatch)" stroke="#1a1a1a" stroke-width="1.4"/>
<rect x="261.2" y="723.0" width="11.0" height="153.25000000000003" fill="#ffffff" stroke="#1a1a1a" stroke-width="1.4"/>
<rect x="272.2" y="729.6" width="11.0" height="146.65" fill="#bdbdbd" stroke="#1a1a1a" stroke-width="1.4"/>
<rect x="283.2" y="724.7" width="11.0" height="151.54999999999998" fill="#8a8a8a" stroke="#1a1a1a" stroke-width="1.4"/>
<rect x="294.2" y="701.4" width="11.0" height="174.85000000000005" fill="#1a1a1a" stroke="#1a1a1a" stroke-width="1.4"/>
<rect x="305.2" y="692.1" width="11.0" height="184.15" fill="url(#hatch)" stroke="#1a1a1a" stroke-width="1.4"/>
<text x="61.5" y="896.3" font-size="10.4" text-anchor="start" font-weight="normal" fill="#1e1e1e" textLength="27.5" lengthAdjust="spacingAndGlyphs" stroke="#1e1e1e" stroke-width="0.1">CD80</text>
<text x="131" y="896.3" font-size="10.4" text-anchor="start" font-weight="normal" fill="#1e1e1e" textLength="27.3" lengthAdjust="spacingAndGlyphs" stroke="#1e1e1e" stroke-width="0.1">CD86</text>
<text x="203.3" y="896.3" font-size="10.4" text-anchor="start" font-weight="normal" fill="#1e1e1e" textLength="28.2" lengthAdjust="spacingAndGlyphs" stroke="#1e1e1e" stroke-width="0.1">CD40</text>
<text x="270.5" y="896.3" font-size="10.4" text-anchor="start" font-weight="normal" fill="#1e1e1e" textLength="35.1" lengthAdjust="spacingAndGlyphs" stroke="#1e1e1e" stroke-width="0.1">MHC II</text>
<rect x="50.6" y="683.1" width="7.7" height="7.7" fill="#ffffff" stroke="#9a9a9a" stroke-width="1"/>
<text x="61.0" y="690.9" font-size="11" text-anchor="start" font-weight="normal" fill="#1e1e1e" textLength="37.8" lengthAdjust="spacingAndGlyphs" stroke="#1e1e1e" stroke-width="0.1">no stim</text>
<rect x="50.6" y="697.1" width="7.7" height="7.7" fill="#c2c2c2" stroke="#9a9a9a" stroke-width="1"/>
<text x="61.0" y="704.9" font-size="11" text-anchor="start" font-weight="normal" fill="#1e1e1e" textLength="50.8" lengthAdjust="spacingAndGlyphs" stroke="#1e1e1e" stroke-width="0.1">PolyA PTO</text>
<rect x="50.6" y="711.2" width="7.7" height="7.7" fill="#808080" stroke="#808080" stroke-width="1"/>
<text x="61.0" y="719.0" font-size="11" text-anchor="start" font-weight="normal" fill="#1e1e1e" textLength="25.6" lengthAdjust="spacingAndGlyphs" stroke="#1e1e1e" stroke-width="0.1">9.2dr</text>
<rect x="50.6" y="725.5" width="7.7" height="7.7" fill="#151515" stroke="#151515" stroke-width="1"/>
<text x="61.0" y="733.3" font-size="11" text-anchor="start" font-weight="normal" fill="#1e1e1e" textLength="51.2" lengthAdjust="spacingAndGlyphs" stroke="#1e1e1e" stroke-width="0.1">9.2dr PTO</text>
<rect x="50.6" y="739.5" width="7.7" height="7.7" fill="#ffffff" stroke="#a0a0a0" stroke-width="1"/>
<line x1="51.0" y1="746.8" x2="58.2" y2="739.9" stroke="#111" stroke-width="1.5"/>
<text x="61.0" y="747.3" font-size="11" text-anchor="start" font-weight="normal" fill="#1e1e1e" textLength="21.2" lengthAdjust="spacingAndGlyphs" stroke="#1e1e1e" stroke-width="0.1">CpG</text>
</svg></body></html>
